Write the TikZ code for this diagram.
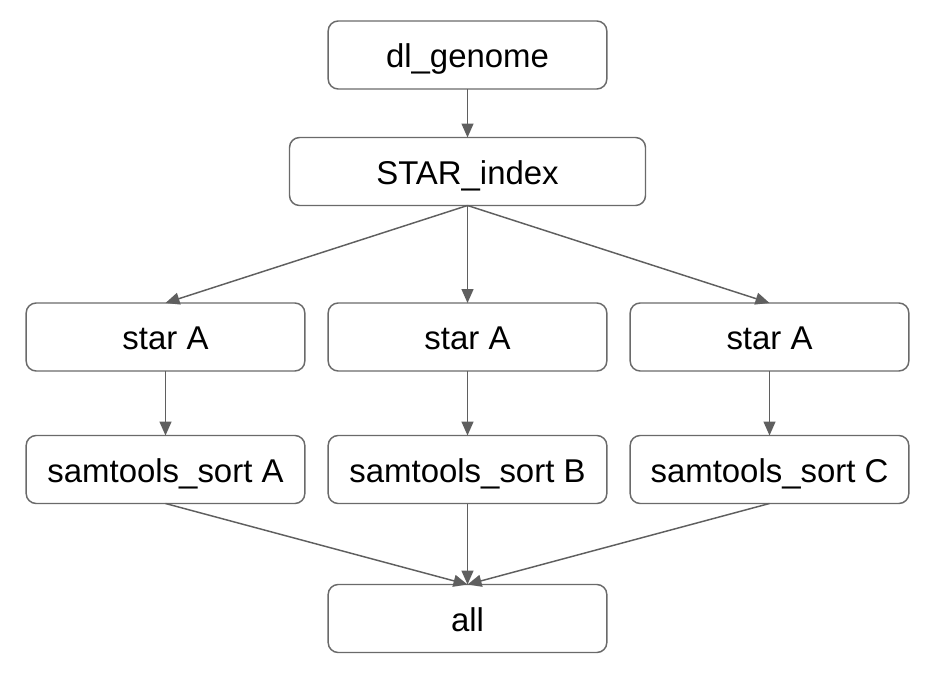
\documentclass[tikz,border=0pt]{standalone}
\usepackage{fontspec}
\setmainfont{Liberation Sans}
\usetikzlibrary{arrows.meta}
\definecolor{flowEdge}{HTML}{5F5F5F}
\definecolor{flowBorder}{HTML}{6A6A6A}
\tikzset{
  flow diagram/.style={
    line width=1.1pt,
    >={Triangle[length=10.5pt,width=9pt]},
    every node/.style={font=\fontsize{24.7}{29.6}\selectfont,
      text=black, inner sep=0pt, outer sep=0pt}
  },
  flow job/.style={draw=flowBorder, rounded corners=7.5pt,
    text height=18.8pt, text depth=0pt,
    minimum width=209pt, minimum height=51pt},
  flow edge/.style={draw=flowEdge, ->}
}
\begin{document}
\begin{tikzpicture}[flow diagram,x=0.75pt,y=-0.75pt]
    \useasboundingbox (0,0) rectangle (934,674);
    \node[flow job] (genome) at (467.5,55) {dl\_genome};
    \node[flow job,minimum width=267pt] (index) at (467.5,171.5) {STAR\_index};
    \node[flow job] (all) at (467.5,618.5) {all};
    \draw[flow edge] (genome) -- (index);
    \foreach \flowX/\flowTag in {165.5/A,467.5/B,769.5/C} {
      \node[flow job] (star\flowTag) at (\flowX,337) {star A};
      \node[flow job] (sort\flowTag) at (\flowX,469.5) {samtools\_sort \flowTag};
      \draw[flow edge] (index.south) -- (star\flowTag.north);
      \draw[flow edge] (star\flowTag) -- (sort\flowTag);
      \draw[flow edge] (sort\flowTag.south) -- (all.north);
    }
  \end{tikzpicture}
\end{document}
